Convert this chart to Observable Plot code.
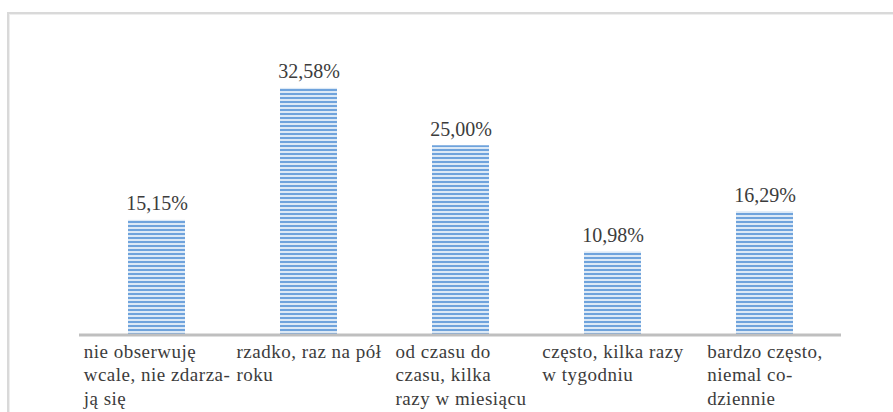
<!DOCTYPE html>
<html>
<head>
<meta charset="utf-8">
<script src="https://cdn.jsdelivr.net/npm/d3@7"></script>
<script src="https://cdn.jsdelivr.net/npm/@observablehq/plot@0.6"></script>
<style>
  html, body { margin: 0; padding: 0; background: #fff; }
  #wrap { position: relative; width: 893px; height: 412px; overflow: hidden; }
  #frame { position: absolute; left: 7px; top: 12px; width: 900px; height: 420px;
    border-left: 2px solid #d9d9d9; border-top: 2px solid #d9d9d9;
    box-shadow: inset 1px 1px 0 #eeeeee; pointer-events: none; }
  .cat-label { letter-spacing: 0.5px; }
</style>
</head>
<body>
<div id="wrap"></div>
<script>
const categories = [
  "nie obserwuję\nwcale, nie zdarza-\nją się",
  "rzadko, raz na pół\nroku",
  "od czasu do\nczasu, kilka\nrazy w miesiącu",
  "często, kilka razy\nw tygodniu",
  "bardzo często,\nniemal co-\ndziennie"
];
const values = [15.15, 32.58, 25.00, 10.98, 16.29];
const valueLabels = ["15,15%", "32,58%", "25,00%", "10,98%", "16,29%"];

const data = categories.map((c, i) => ({category: c, value: values[i], label: valueLabels[i]}));

const serif = "Liberation Serif";
const labelSize = 19;
const letterSp = 0.5;
const canvas = document.createElement("canvas");
const ctx = canvas.getContext("2d");
ctx.font = labelSize + "px 'Liberation Serif'";
function blockWidth(s) {
  return d3.max(s.split("\n"), l => ctx.measureText(l).width + l.length * letterSp);
}

const labelMarks = categories.map(c =>
  Plot.text([c], {
    x: d => d,
    text: d => d,
    frameAnchor: "bottom",
    textAnchor: "start",
    lineAnchor: "top",
    lineHeight: 1.23,
    dy: 6.5,
    dx: -blockWidth(c) / 2,
    fontFamily: serif,
    fontSize: labelSize,
    fill: "#3c3c3c",
    className: "cat-label"
  })
);

const chart = Plot.plot({
  width: 893,
  height: 412,
  marginLeft: 79,
  marginRight: 52,
  marginTop: 31.7,
  marginBottom: 77.5,
  style: {background: "transparent", fontFamily: serif},
  x: {domain: categories, paddingInner: 0.626, paddingOuter: 0.313, axis: null},
  y: {domain: [0, 40], axis: null},
  marks: [
    () => {
      const svg = d3.create("svg:g");
      const pat = svg.append("defs").append("pattern")
        .attr("id", "stripes").attr("patternUnits", "userSpaceOnUse")
        .attr("width", 8).attr("height", 4);
      pat.append("rect").attr("width", 8).attr("height", 4).attr("fill", "#dce9f6");
      pat.append("rect").attr("y", 1).attr("width", 8).attr("height", 2).attr("fill", "#6fa3dc");
      return svg.node();
    },
    Plot.barY(data, {x: "category", y: "value", fill: "url(#stripes)"}),
    Plot.ruleY([0], {stroke: "#bfbfbf", strokeWidth: 3}),
    Plot.text(data, {
      x: "category", y: "value", text: "label",
      lineAnchor: "bottom", dy: -10,
      fontFamily: serif, fontSize: 20, fill: "#3c3c3c"
    }),
    ...labelMarks
  ]
});

const wrap = document.getElementById("wrap");
wrap.appendChild(chart);
const frame = document.createElement("div");
frame.id = "frame";
wrap.appendChild(frame);
</script>
</body>
</html>
